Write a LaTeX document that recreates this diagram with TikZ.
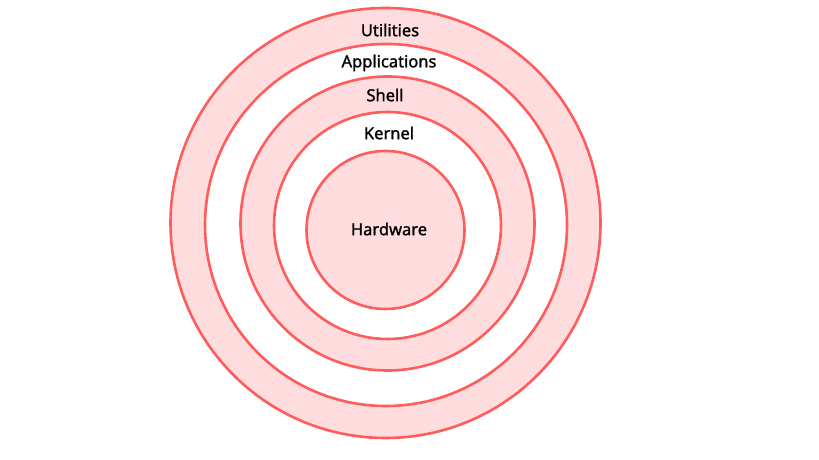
\documentclass[tikz,border=0pt]{standalone}
\usepackage{fontspec}
\setmainfont{Noto Sans}[FakeBold=1.3]
\definecolor{ringline}{RGB}{255,92,92}
\definecolor{ringfill}{RGB}{255,221,222}
\begin{document}
\begin{tikzpicture}[x=1pt,y=1pt,
  ring/.style={circle, draw=ringline, line width=2.6pt, inner sep=0pt},
  pinkring/.style={ring, fill=ringfill},
  whitering/.style={ring, fill=white},
  lbl/.style={font=\fontsize{16.5}{18}\selectfont, text=black, inner sep=0pt}]
\useasboundingbox (0,0) rectangle (819,460);
\node[pinkring, minimum size=430pt] (utilities) at (385.5,{460-223}) {};
\node[whitering, minimum size=362pt] (applications) at (386,{460-225}) {};
\node[pinkring, minimum size=294pt] (shell) at (387.5,{460-223.5}) {};
\node[whitering, minimum size=227pt] (kernel) at (387.5,{460-225.5}) {};
\node[pinkring, minimum size=158pt] (hardware) at (385.5,{460-230}) {};
\node[lbl] (tU) at (390,{460-30}) {Utilities};
\node[lbl] (tA) at (389,{460-63}) {Applications};
\node[lbl] (tS) at (385,{460-95}) {Shell};
\node[lbl] (tK) at (389,{460-133}) {Kernel};
\node[lbl] (tH) at (389,{460-229}) {Hardware};
\end{tikzpicture}
\end{document}
